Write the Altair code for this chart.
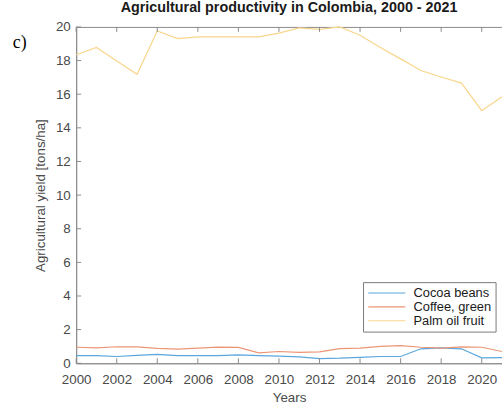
import altair as alt
import pandas as pd

# Yields in tons per hectare, Colombia
years = list(range(2000, 2022))
cocoa_beans = [0.45, 0.45, 0.40, 0.47, 0.53, 0.45, 0.45, 0.45, 0.50, 0.45, 0.42,
               0.38, 0.28, 0.30, 0.35, 0.40, 0.40, 0.86, 0.92, 0.86, 0.32, 0.33]
coffee_green = [0.95, 0.92, 0.98, 0.97, 0.88, 0.84, 0.90, 0.96, 0.94, 0.62, 0.70,
                0.65, 0.68, 0.87, 0.90, 1.00, 1.05, 0.95, 0.90, 0.97, 0.95, 0.70]
palm_oil_fruit = [18.35, 18.78, 17.98, 17.18, 19.76, 19.31, 19.41, 19.41, 19.41, 19.41, 19.63,
                  19.94, 19.86, 20.00, 19.51, 18.78, 18.10, 17.41, 17.02, 16.66, 15.02, 15.85]

crops = ["Cocoa beans", "Coffee, green", "Palm oil fruit"]
colors = ["#5aa7de", "#ec9676", "#f8d68c"]

x_ticks = list(range(2000, 2021, 2))
y_ticks = list(range(0, 21, 2))

W, H = 430.5, 340
AXIS_GREY = "#8c8c8c"
TEXT_GREY = "#4a4a4a"
FONT = "Liberation Sans"

rows = []
for name, vals in zip(crops, [cocoa_beans, coffee_green, palm_oil_fruit]):
    for yr, v in zip(years, vals):
        rows.append({"Year": yr, "Crop": name, "Yield": v})
df = pd.DataFrame(rows)

x_scale = alt.Scale(domain=[2000, 2021], nice=False, zero=False)
y_scale = alt.Scale(domain=[0, 20], nice=False)

# one axis definition shared by every layer so the merged axes agree
x_axis = alt.Axis(values=x_ticks, format="d", title="Years", tickSize=0,
                  labelPadding=9, titlePadding=5, grid=False,
                  labelOverlap=False, labelFlush=False)
y_axis = alt.Axis(values=y_ticks, title="Agricultural yield [tons/ha]",
                  tickSize=0, labelPadding=6, titlePadding=8, grid=False,
                  labelOverlap=False, labelFlush=False)

lines = alt.Chart(df).mark_line(strokeWidth=1.2).encode(
    x=alt.X("Year:Q", scale=x_scale, axis=x_axis),
    y=alt.Y("Yield:Q", scale=y_scale, axis=y_axis),
    color=alt.Color("Crop:N", scale=alt.Scale(domain=crops, range=colors),
                    legend=alt.Legend(title=None)),
)

xt = pd.DataFrame({"Year": x_ticks})
yt = pd.DataFrame({"Yield": y_ticks})

# inward tick marks on bottom, top and left edges
bottom_ticks = alt.Chart(xt).mark_rule(color=AXIS_GREY, strokeWidth=1).encode(
    x=alt.X("Year:Q", scale=x_scale, axis=x_axis), y=alt.value(H), y2=alt.value(H - 5))
top_ticks = alt.Chart(xt).mark_rule(color=AXIS_GREY, strokeWidth=1).encode(
    x=alt.X("Year:Q", scale=x_scale, axis=x_axis), y=alt.value(0), y2=alt.value(5))
left_ticks = alt.Chart(yt).mark_rule(color=AXIS_GREY, strokeWidth=1).encode(
    y=alt.Y("Yield:Q", scale=y_scale, axis=y_axis), x=alt.value(0), x2=alt.value(5))

panel_label = alt.Chart(pd.DataFrame({"t": ["c)"]})).mark_text(
    font="Liberation Serif", fontSize=18, align="left", baseline="middle", color="#000000"
).encode(text="t:N", x=alt.value(-64), y=alt.value(16))

chart = alt.layer(lines, bottom_ticks, top_ticks, left_ticks, panel_label).properties(
    width=W, height=H,
    title=alt.TitleParams("Agricultural productivity in Colombia, 2000 - 2021",
                          font=FONT, fontSize=14.5, fontWeight="bold", color="#1a1a1a",
                          offset=5, anchor="middle"),
    autosize=alt.AutoSizeParams(type="none"),
    padding={"left": 77, "top": 25, "right": 0, "bottom": 43},
).configure_view(
    stroke=AXIS_GREY, strokeWidth=1
).configure_axis(
    domainColor=AXIS_GREY, labelColor=TEXT_GREY, titleColor=TEXT_GREY,
    labelFont=FONT, titleFont=FONT, labelFontSize=13.5, titleFontSize=13.5,
    titleFontWeight="normal",
).configure_legend(
    orient="none", legendX=290, legendY=258,
    strokeColor="#7a7a7a", fillColor="#ffffff", padding=4, cornerRadius=0,
    symbolType="M-3,0H3", symbolSize=156, symbolStrokeWidth=1.2, symbolOffset=13,
    labelFont=FONT, labelFontSize=13, labelColor="#1a1a1a", labelOffset=20,
    rowPadding=0,
)

chart.save("out.html", embed_options={"renderer": "svg", "actions": False})
